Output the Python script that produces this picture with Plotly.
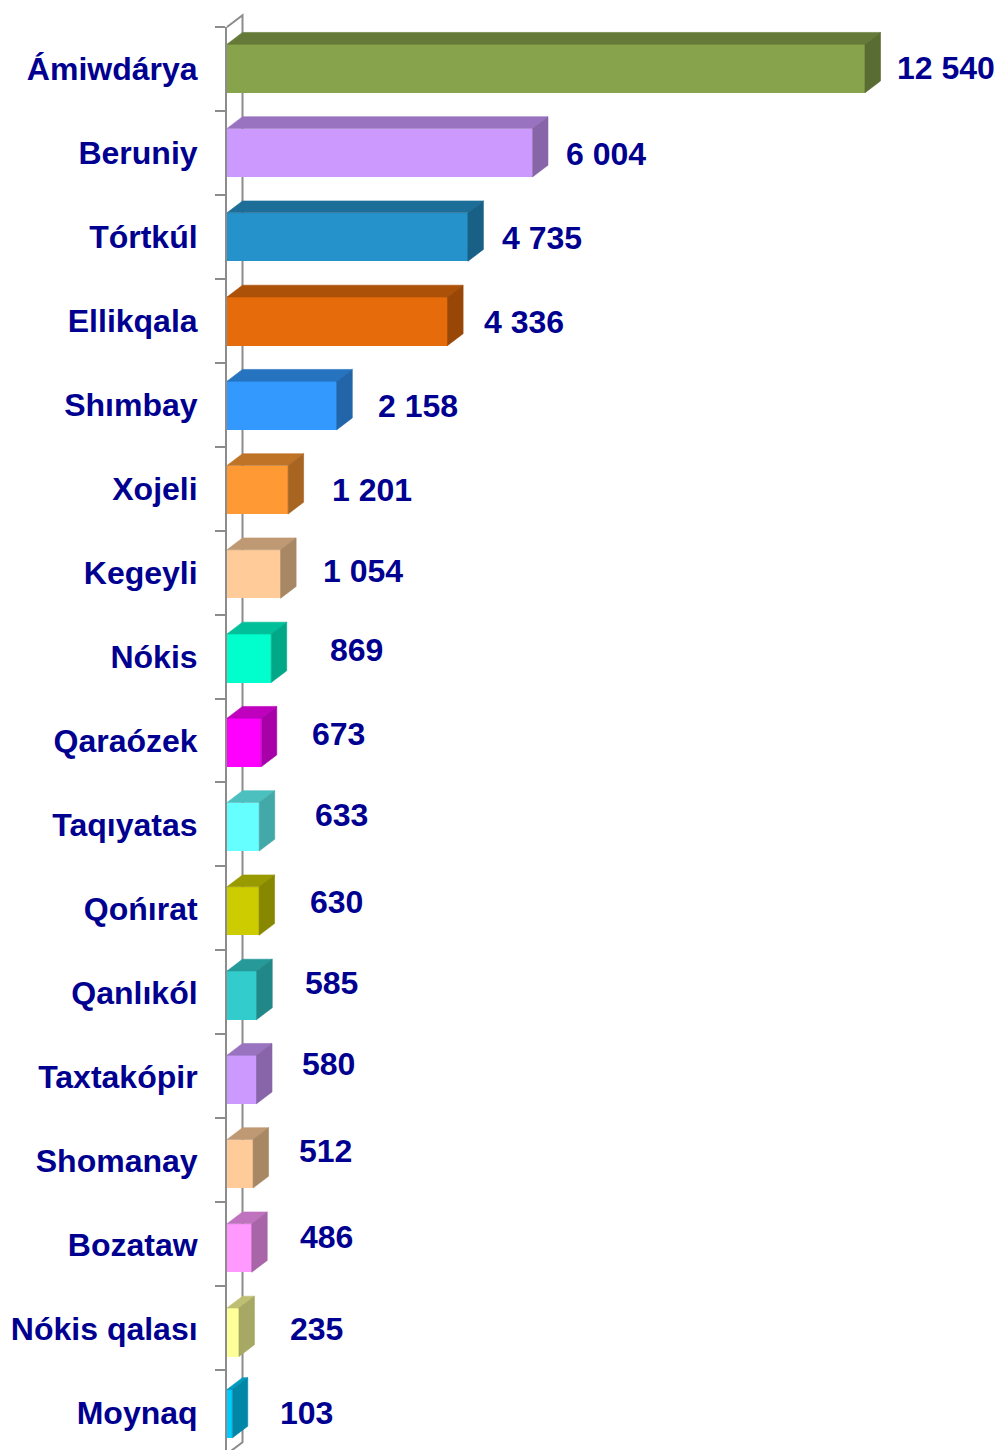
import plotly.graph_objects as go

# ---- data ----
districts = ["Ámiwdárya", "Beruniy", "Tórtkúl", "Ellikqala", "Shımbay", "Xojeli", "Kegeyli", "Nókis",
             "Qaraózek", "Taqıyatas", "Qońırat", "Qanlıkól", "Taxtakópir", "Shomanay", "Bozataw",
             "Nókis qalası", "Moynaq"]
values = [12540, 6004, 4735, 4336, 2158, 1201, 1054, 869, 673, 633, 630, 585, 580, 512, 486, 235, 103]
value_labels = ["12 540", "6 004", "4 735", "4 336", "2 158", "1 201", "1 054", "869", "673", "633",
                "630", "585", "580", "512", "486", "235", "103"]

# ---- style ----
front_colors = ["#87A34B", "#CC99FF", "#2692CC", "#E66C0B", "#3399FF", "#FF9933", "#FFCC99", "#00FFCC",
                "#FF00FF", "#66FFFF", "#CCCC00", "#33CCCC", "#CC99FF", "#FFCC99", "#FF99FF", "#FFFF99",
                "#00CCFF"]
label_dx = [80.5, 74, 74, 76.5, 81.5, 84, 82, 85.2, 77, 82.5, 77.5, 74.8, 72, 72.5, 75, 77.8, 74.2]
label_dy = [-1.5, 1.4, 1.3, 1.2, 1.1, 1, -2.1, -7.2, -7.3, -10.2, -6.7, -9.8, -12.9, -10, -8.1, -0.2, -0.3]
bar_nudge_px = [-0.5, -0.25, 0, 0.25, 0.5, 0.75, 1, 1.25, 1.5, 1.75, 2, 2.25, 2.5, 2.75, 3, 3.25, 0.7]
TEXT = "#000090"
GRAY = "#8C8C8C"
FONT = "Liberation Sans, Arial, sans-serif"
W, H = 998, 1450
LEFT = 227
TOP = 27
PX_PER_UNIT = (865 - LEFT) / 12540
PERIOD = 84.0
TICK_PERIOD = 83.94
DEPTH_PX_X = 15.5
DEPTH_PX_Y = 11.8
DEPTH_X = DEPTH_PX_X / PX_PER_UNIT
DEPTH_Y = DEPTH_PX_Y / PERIOD
BAR_W = 48.5 / PERIOD


def shade(hex_color, f):
    r, g, b = (int(hex_color[k:k + 2], 16) for k in (1, 3, 5))
    return f"rgb({r * f:.0f},{g * f:.0f},{b * f:.0f})"


positions = list(range(len(values)))
bar_positions = [i + d / PERIOD for i, d in zip(positions, bar_nudge_px)]
fig = go.Figure()

for y, v, c in zip(bar_positions, values, front_colors):
    t, b = y - BAR_W / 2, y + BAR_W / 2
    top_color, side_color = shade(c, 0.75), shade(c, 0.66)
    fig.add_trace(go.Scatter(x=[0, v, v + DEPTH_X, DEPTH_X, 0], y=[t, t, t - DEPTH_Y, t - DEPTH_Y, t],
                             mode="lines", fill="toself", fillcolor=top_color,
                             line=dict(width=0.6, color=top_color), hoverinfo="skip"))
    fig.add_trace(go.Scatter(x=[v, v + DEPTH_X, v + DEPTH_X, v, v], y=[t, t - DEPTH_Y, b - DEPTH_Y, b, t],
                             mode="lines", fill="toself", fillcolor=side_color,
                             line=dict(width=0.6, color=side_color), hoverinfo="skip"))

fig.add_trace(go.Bar(y=bar_positions, x=values, orientation="h", width=BAR_W, hoverinfo="skip",
                     marker=dict(color=front_colors, line=dict(width=0))))

for i, (v, s) in enumerate(zip(values, value_labels)):
    fig.add_annotation(x=v, y=i, text=f"<b>{s}</b>", showarrow=False, xanchor="center", yanchor="middle",
                       xshift=label_dx[i], yshift=-label_dy[i], font=dict(family=FONT, size=32, color=TEXT))

n = len(values)
plot_w, plot_h = W - LEFT, H - TOP
wx = DEPTH_PX_X / plot_w
wy = DEPTH_PX_Y / plot_h
bottom_paper = 1 - (n * TICK_PERIOD) / plot_h
wall = (f"M 0 1 L {wx} {1 + wy} L {wx} {bottom_paper + wy} L 0 {bottom_paper}")
fig.add_shape(type="path", path=wall, xref="paper", yref="paper", layer="below",
              line=dict(color=GRAY, width=2))

fig.update_layout(
    width=W, height=H, showlegend=False, plot_bgcolor="rgba(0,0,0,0)", paper_bgcolor="white",
    margin=dict(l=LEFT, r=0, t=TOP, b=0), bargap=0,
    xaxis=dict(range=[0, plot_w / PX_PER_UNIT], visible=False, fixedrange=True),
    yaxis=dict(range=[-0.5 + plot_h / PERIOD, -0.5], tickmode="array", tickvals=positions,
               ticktext=[f"<b>{d}</b>" for d in districts], ticks="", ticklabelstandoff=21,
               tickfont=dict(family=FONT, size=32, color=TEXT), showgrid=False, zeroline=False,
               showline=True, linecolor=GRAY, linewidth=2, fixedrange=True,
               minor=dict(tickmode="array",
                          tickvals=[-0.5 + i * TICK_PERIOD / PERIOD for i in range(n + 1)],
                          ticks="outside", ticklen=10, tickwidth=2, tickcolor=GRAY, showgrid=False)),
)

fig.write_html("out.html", config={"displayModeBar": False},
               post_script="document.body.style.margin='0';document.body.style.overflow='hidden';")
